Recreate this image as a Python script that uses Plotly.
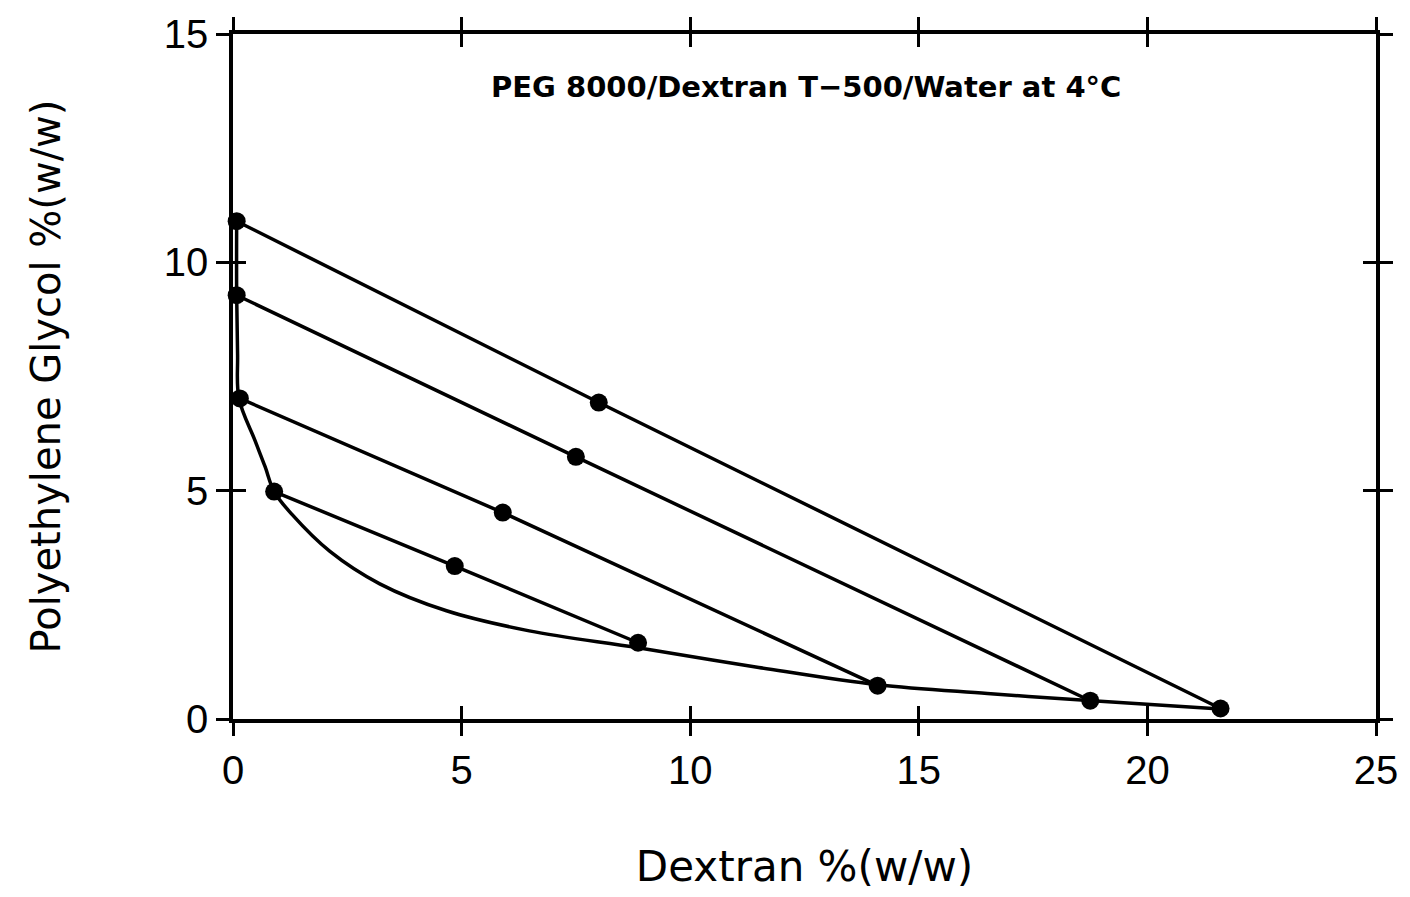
import plotly.graph_objects as go

# Binodal curve (Dextran %, PEG %)
binodal_x = [0.08, 0.08, 0.10, 0.13, 0.48, 0.70, 0.90, 1.29, 2.12, 3.21, 4.67, 6.48, 8.86, 11.5, 14.1, 16.5, 18.8, 21.6]
binodal_y = [10.9, 9.3, 8.0, 7.02, 6.10, 5.53, 4.98, 4.48, 3.67, 2.96, 2.37, 1.93, 1.56, 1.13, 0.75, 0.56, 0.40, 0.22]

# Tie lines: top phase, total composition, bottom phase
tie_x = [
    [0.08, 8.0, 21.6],
    [0.08, 7.5, 18.75],
    [0.15, 5.9, 14.1],
    [0.90, 4.85, 8.86],
]
tie_y = [
    [10.9, 6.93, 0.23],
    [9.28, 5.74, 0.40],
    [7.02, 4.52, 0.73],
    [4.98, 3.35, 1.67],
]

x_ticks = [0, 5, 10, 15, 20, 25]
y_ticks = [0, 5, 10, 15]

title_text = "PEG 8000/Dextran T\u2212500/Water at 4\u00b0C"

fig = go.Figure()

fig.add_trace(go.Scatter(
    x=binodal_x, y=binodal_y, mode="lines",
    line=dict(color="black", width=3.5, shape="spline", smoothing=1.0),
    cliponaxis=True, showlegend=False, hoverinfo="skip"))

for tx, ty in zip(tie_x, tie_y):
    fig.add_trace(go.Scatter(
        x=tx, y=ty, mode="lines+markers",
        line=dict(color="black", width=3.5),
        marker=dict(color="black", size=18),
        cliponaxis=False, showlegend=False))

# invisible trace for the overlay axes (inner tick halves)
fig.add_trace(go.Scatter(x=[0, 25], y=[0, 15], xaxis="x2", yaxis="y2",
                         mode="markers", marker=dict(opacity=0, size=1),
                         showlegend=False, hoverinfo="skip"))

tick_family = "Liberation Sans, Arial, sans-serif"
text_family = "DejaVu Sans, sans-serif"

axis_common = dict(
    showline=True, linecolor="black", linewidth=3.5, mirror="allticks",
    ticklen=13, tickwidth=3, tickcolor="black",
    showgrid=False, zeroline=False,
)

fig.update_layout(
    width=1410, height=897,
    margin=dict(l=233, r=32, t=29, b=178),
    paper_bgcolor="white", plot_bgcolor="white",
    font=dict(family=tick_family, color="black"),
    xaxis=dict(range=[0, 25], tickvals=x_ticks, ticks="outside",
               tickfont=dict(size=40),
               title=dict(text="Dextran %(w/w)", font=dict(size=42, family=text_family), standoff=62),
               **axis_common),
    yaxis=dict(range=[0, 15], tickvals=y_ticks, ticks="outside",
               tickfont=dict(size=40),
               title=dict(text="Polyethylene Glycol %(w/w)", font=dict(size=40, family=text_family), standoff=92),
               **axis_common),
    xaxis2=dict(range=[0, 25], tickvals=x_ticks, ticks="inside", overlaying="x",
                showticklabels=False, **axis_common),
    yaxis2=dict(range=[0, 15], tickvals=y_ticks, ticks="inside", overlaying="y",
                showticklabels=False, **axis_common),
    annotations=[dict(
        text="<b>" + title_text + "</b>", x=0.501, y=0.922, xref="paper", yref="paper",
        xanchor="center", yanchor="middle", showarrow=False,
        font=dict(size=29, family=text_family, color="black"))],
)

fig.write_html("out.html")
